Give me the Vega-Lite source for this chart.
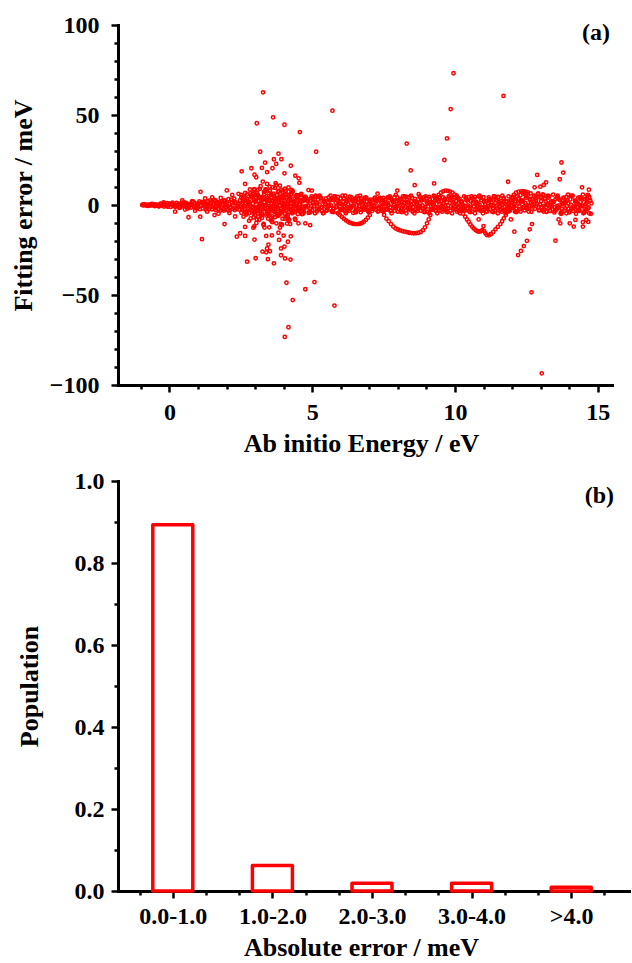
{
"$schema":"https://vega.github.io/schema/vega-lite/v6.json",
"padding":{"left":10,"top":13,"right":0,"bottom":0},
"bounds":"flush",
"spacing":96,
"config":{"view":{"stroke":null},
"axis":{"domainColor":"#000","domainWidth":3,"domainCap":"square","tickColor":"#000","tickWidth":2.5,"grid":false,"labelFont":"Liberation Serif","labelFontSize":24,"labelFontWeight":"bold","labelColor":"#000","titleFont":"Liberation Serif","titleFontSize":26,"titleFontWeight":"bold","titleColor":"#000","labelFlush":false,"labelOverlap":false,"zindex":1}},
"datasets":{
"hist":[{"lo":0,"pop":0.893},{"lo":1,"pop":0.062},{"lo":2,"pop":0.019},{"lo":3,"pop":0.019},{"lo":4,"pop":0.009}],
"pts":[
{"E":-0.95,"err":0.0},{"E":-0.91,"err":-0.2},{"E":-0.87,"err":0.3},{"E":-0.83,"err":-0.1},{"E":-0.79,"err":0.2},{"E":-0.75,"err":-0.4},{"E":-0.71,"err":0.1},{"E":-0.67,"err":-0.3},{"E":-0.63,"err":0.5},{"E":-0.59,"err":-0.1},{"E":-0.55,"err":0.4},{"E":-0.51,"err":-0.6},{"E":-0.47,"err":0.2},{"E":-0.43,"err":-0.3},{"E":-0.39,"err":0.1},{"E":-0.35,"err":-0.6},{"E":-0.31,"err":0.7},{"E":-0.27,"err":-0.3},{"E":-0.23,"err":0.5},{"E":-0.19,"err":-0.9},{"E":-0.15,"err":0.2},{"E":-0.11,"err":-0.5},{"E":-0.07,"err":1.0},{"E":-0.03,"err":-0.1},{"E":0.01,"err":0.7},{"E":0.05,"err":-1.0},{"E":0.09,"err":0.4},{"E":0.13,"err":-0.5},{"E":0.17,"err":0.1},{"E":0.21,"err":-1.0},{"E":0.25,"err":1.2},{"E":0.29,"err":-0.4},{"E":0.33,"err":0.8},{"E":0.37,"err":-1.4},{"E":0.41,"err":0.3},{"E":0.45,"err":-0.8},{"E":0.49,"err":1.5},{"E":0.53,"err":-0.2},{"E":0.57,"err":1.1},{"E":0.61,"err":-1.4},{"E":0.65,"err":0.6},{"E":0.69,"err":-0.8},{"E":0.73,"err":0.2},{"E":0.77,"err":-1.4},{"E":0.81,"err":1.6},{"E":0.85,"err":-0.6},{"E":0.89,"err":1.0},{"E":0.93,"err":-1.9},{"E":0.97,"err":0.4},{"E":1.01,"err":-1.1},{"E":1.05,"err":2.0},{"E":1.09,"err":-0.2},{"E":1.13,"err":1.4},{"E":1.17,"err":-1.9},{"E":1.21,"err":0.7},{"E":1.25,"err":-1.0},{"E":1.29,"err":0.2},{"E":1.33,"err":-1.8},{"E":1.37,"err":2.1},{"E":1.41,"err":-0.8},{"E":1.45,"err":1.3},{"E":1.49,"err":-2.4},{"E":1.53,"err":0.5},{"E":1.57,"err":-1.4},{"E":1.61,"err":2.5},{"E":1.65,"err":-0.3},{"E":1.69,"err":1.7},{"E":1.73,"err":-2.3},{"E":1.77,"err":0.9},{"E":1.81,"err":-1.2},{"E":1.85,"err":0.3},{"E":1.89,"err":-2.2},{"E":1.93,"err":2.5},{"E":1.97,"err":-1.0},{"E":2.01,"err":1.6},{"E":2.05,"err":-2.9},{"E":2.09,"err":0.7},{"E":2.13,"err":-1.7},{"E":2.17,"err":3.0},{"E":2.21,"err":-0.3},{"E":2.25,"err":2.1},{"E":2.29,"err":-2.8},{"E":2.33,"err":1.1},{"E":2.37,"err":-1.4},{"E":2.41,"err":0.4},{"E":2.45,"err":-2.6},
{"E":0.31,"err":-0.9},{"E":0.39,"err":0.6},{"E":0.47,"err":-0.3},{"E":0.55,"err":1.2},{"E":0.63,"err":-1.8},{"E":0.71,"err":0.0},{"E":0.79,"err":2.0},{"E":0.87,"err":-0.7},{"E":0.95,"err":-1.3},{"E":1.03,"err":0.9},{"E":1.11,"err":-0.5},{"E":1.19,"err":1.7},{"E":1.27,"err":-2.5},{"E":1.35,"err":0.0},{"E":1.43,"err":2.6},{"E":1.51,"err":-0.9},{"E":1.59,"err":-1.7},{"E":1.67,"err":1.1},{"E":1.75,"err":-0.6},{"E":1.83,"err":2.1},{"E":1.91,"err":-3.1},{"E":1.99,"err":0.0},{"E":2.07,"err":3.3},{"E":2.15,"err":-1.2},{"E":2.23,"err":-2.1},{"E":2.31,"err":1.4},{"E":2.39,"err":-0.7},{"E":2.47,"err":2.6},
{"E":-0.93,"err":0.2},{"E":-0.85,"err":-0.1},{"E":-0.77,"err":-0.4},{"E":-0.69,"err":0.2},{"E":-0.61,"err":0.6},{"E":-0.53,"err":-0.4},{"E":-0.45,"err":0.1},{"E":-0.37,"err":-0.8},{"E":-0.29,"err":0.5},{"E":-0.21,"err":0.7},{"E":-0.13,"err":-0.2},{"E":-0.05,"err":-1.0},{"E":0.03,"err":0.5},{"E":0.11,"err":1.3},{"E":0.19,"err":-0.8},{"E":0.27,"err":0.1},{"E":0.35,"err":-1.6},{"E":0.43,"err":0.8},{"E":0.51,"err":1.2},{"E":0.59,"err":-0.4},{"E":0.67,"err":-1.7},{"E":0.75,"err":0.8},{"E":0.83,"err":2.0},{"E":0.91,"err":-1.3},{"E":0.99,"err":0.2},{"E":1.07,"err":-2.3},{"E":1.15,"err":1.2},{"E":1.23,"err":1.7},{"E":1.31,"err":-0.5},{"E":1.39,"err":-2.3},{"E":1.47,"err":1.1},{"E":1.55,"err":2.8},{"E":1.63,"err":-1.7},{"E":1.71,"err":0.3},{"E":1.79,"err":-3.0},{"E":1.87,"err":1.5},{"E":1.95,"err":2.2},{"E":2.03,"err":-0.6},{"E":2.11,"err":-3.0},{"E":2.19,"err":1.4},{"E":2.27,"err":3.5},{"E":2.35,"err":-2.1},{"E":2.43,"err":0.4},
{"E":0.45,"err":2.6},{"E":0.9,"err":-3.2},{"E":1.25,"err":3.6},{"E":1.8,"err":3.9},{"E":1.72,"err":-4.8},{"E":2.2,"err":5.6},{"E":2.3,"err":-6.4},{"E":2.42,"err":6.2},{"E":2.1,"err":-4.5},{"E":0.55,"err":-2.5},{"E":-0.2,"err":1.4},{"E":1.5,"err":4.2},{"E":0.2,"err":-3.7},{"E":1.32,"err":-3.7},{"E":1.62,"err":-2.8},{"E":1.58,"err":-5.6},
{"E":2.52,"err":5.6},{"E":2.545,"err":-2.6},{"E":2.57,"err":1.3},{"E":2.595,"err":-6.5},{"E":2.62,"err":4.2},{"E":2.645,"err":-0.7},{"E":2.67,"err":2.6},{"E":2.695,"err":-5.3},{"E":2.72,"err":5.9},{"E":2.745,"err":-2.0},{"E":2.77,"err":0.4},{"E":2.795,"err":-4.6},{"E":2.82,"err":8.6},{"E":2.845,"err":-7.5},{"E":2.87,"err":4.1},{"E":2.895,"err":-1.4},{"E":2.92,"err":6.1},{"E":2.945,"err":-4.3},{"E":2.97,"err":8.8},{"E":2.995,"err":-4.0},{"E":3.02,"err":2.0},{"E":3.045,"err":-10.0},{"E":3.07,"err":6.5},{"E":3.095,"err":-1.1},{"E":3.12,"err":4.0},{"E":3.145,"err":-8.2},{"E":3.17,"err":9.0},{"E":3.195,"err":-3.1},{"E":3.22,"err":0.6},{"E":3.245,"err":-7.1},{"E":3.27,"err":13.0},{"E":3.295,"err":-11.1},{"E":3.32,"err":5.9},{"E":3.345,"err":-2.0},{"E":3.37,"err":8.5},{"E":3.395,"err":-5.9},{"E":3.42,"err":11.7},{"E":3.445,"err":-5.2},{"E":3.47,"err":2.6},{"E":3.495,"err":-12.4},{"E":3.52,"err":7.8},{"E":3.545,"err":-1.3},{"E":3.57,"err":4.6},{"E":3.595,"err":-9.1},{"E":3.62,"err":9.8},{"E":3.645,"err":-3.2},{"E":3.67,"err":0.6},{"E":3.695,"err":-6.8},{"E":3.72,"err":12.2},{"E":3.745,"err":-10.2},{"E":3.77,"err":5.4},{"E":3.795,"err":-1.8},{"E":3.82,"err":7.8},{"E":3.845,"err":-5.4},{"E":3.87,"err":10.8},{"E":3.895,"err":-4.8},{"E":3.92,"err":2.4},{"E":3.945,"err":-11.0},{"E":3.97,"err":6.8},{"E":3.995,"err":-1.1},{"E":4.02,"err":3.9},{"E":4.045,"err":-7.6},{"E":4.07,"err":8.0},{"E":4.095,"err":-2.6},{"E":4.12,"err":0.5},{"E":4.145,"err":-5.5},{"E":4.17,"err":9.8},{"E":4.195,"err":-8.2},{"E":4.22,"err":4.2},{"E":4.245,"err":-1.4},{"E":4.27,"err":5.9},{"E":4.295,"err":-4.0},{"E":4.32,"err":7.7},{"E":4.345,"err":-3.4},{"E":4.37,"err":1.6},{"E":4.395,"err":-7.6},{"E":4.42,"err":4.7},{"E":4.445,"err":-0.8},{"E":4.47,"err":2.6},{"E":4.495,"err":-5.0},{"E":4.52,"err":5.3},{"E":4.545,"err":-1.7},{"E":4.57,"err":0.3},{"E":4.595,"err":-3.5},{"E":4.62,"err":6.2},{"E":4.645,"err":-5.1},{"E":4.67,"err":2.7},{"E":4.695,"err":-0.9},{"E":4.72,"err":3.9},
{"E":3.01,"err":-2.4},{"E":3.06,"err":5.6},{"E":3.11,"err":-6.4},{"E":3.16,"err":0.8},{"E":3.21,"err":4.0},{"E":3.26,"err":-4.8},{"E":3.31,"err":7.2},{"E":3.36,"err":-0.4},{"E":3.41,"err":2.4},{"E":3.46,"err":-7.6},{"E":3.51,"err":-2.4},{"E":3.56,"err":5.6},{"E":3.61,"err":-6.4},{"E":3.66,"err":0.8},{"E":3.71,"err":4.0},{"E":3.76,"err":-4.8},{"E":3.81,"err":7.2},{"E":3.86,"err":-0.4},{"E":3.91,"err":2.4},{"E":3.96,"err":-7.6},{"E":4.01,"err":-2.4},{"E":4.06,"err":5.6},{"E":4.11,"err":-6.4},{"E":4.16,"err":0.8},
{"E":2.9,"err":5.2},{"E":2.95,"err":-6.8},{"E":3.0,"err":2.0},{"E":3.05,"err":-3.0},{"E":3.1,"err":8.5},{"E":3.15,"err":-0.9},{"E":3.2,"err":-6.0},{"E":3.25,"err":4.5},{"E":3.3,"err":-10.5},{"E":3.35,"err":7.5},{"E":3.4,"err":0.0},{"E":3.45,"err":-5.0},{"E":3.5,"err":6.5},{"E":3.55,"err":-8.5},{"E":3.6,"err":2.5},{"E":3.65,"err":-3.5},{"E":3.7,"err":9.5},{"E":3.75,"err":-1.0},{"E":3.8,"err":-6.0},{"E":3.85,"err":4.5},{"E":3.9,"err":-10.5},{"E":3.95,"err":7.5},{"E":4.0,"err":0.0},{"E":4.05,"err":-5.0},{"E":4.1,"err":5.8},{"E":4.15,"err":-7.2},{"E":4.2,"err":2.0},{"E":4.25,"err":-2.8},{"E":4.3,"err":7.0},{"E":4.35,"err":-0.7},{"E":4.4,"err":-4.0},
{"E":2.52,"err":-4.3},{"E":2.565,"err":3.2},{"E":2.61,"err":-0.4},{"E":2.655,"err":6.7},{"E":2.7,"err":-3.5},{"E":2.745,"err":2.1},{"E":2.79,"err":-8.8},{"E":2.835,"err":6.4},{"E":2.88,"err":-2.9},{"E":2.925,"err":0.7},{"E":2.97,"err":8.2},{"E":3.015,"err":-5.7},{"E":3.06,"err":-8.1},{"E":3.105,"err":5.5},{"E":3.15,"err":-0.7},{"E":3.195,"err":10.4},{"E":3.24,"err":-5.3},{"E":3.285,"err":3.1},{"E":3.33,"err":-12.5},{"E":3.375,"err":8.7},{"E":3.42,"err":-3.8},{"E":3.465,"err":0.9},{"E":3.51,"err":10.2},{"E":3.555,"err":-7.0},{"E":3.6,"err":-9.5},{"E":3.645,"err":6.3},{"E":3.69,"err":-0.8},{"E":3.735,"err":11.2},{"E":3.78,"err":-5.5},{"E":3.825,"err":3.1},{"E":3.87,"err":-12.5},{"E":3.915,"err":8.5},{"E":3.96,"err":-3.6},{"E":4.005,"err":0.8},{"E":4.05,"err":9.1},{"E":4.095,"err":-6.0},{"E":4.14,"err":-7.9},{"E":4.185,"err":5.0},{"E":4.23,"err":-0.6},{"E":4.275,"err":8.4},{"E":4.32,"err":-4.0},{"E":4.365,"err":2.1},{"E":4.41,"err":-8.3},{"E":4.455,"err":5.5},{"E":4.5,"err":-2.3},{"E":4.545,"err":0.5},{"E":4.59,"err":5.5},{"E":4.635,"err":-3.6},{"E":4.68,"err":-4.8},{"E":4.725,"err":3.2},
{"E":2.52,"err":4.3},{"E":2.56,"err":-1.0},{"E":2.6,"err":2.2},{"E":2.64,"err":-3.7},{"E":2.68,"err":0.9},{"E":2.72,"err":3.4},{"E":2.76,"err":-2.4},{"E":2.8,"err":1.6},{"E":2.84,"err":-0.3},{"E":2.88,"err":4.8},{"E":2.92,"err":-3.1},{"E":2.96,"err":2.7},{"E":3.0,"err":-1.7},{"E":3.04,"err":4.3},{"E":3.08,"err":-1.0},{"E":3.12,"err":2.2},{"E":3.16,"err":-3.7},{"E":3.2,"err":0.9},{"E":3.24,"err":3.4},{"E":3.28,"err":-2.4},{"E":3.32,"err":1.6},{"E":3.36,"err":-0.3},{"E":3.4,"err":4.8},{"E":3.44,"err":-3.1},{"E":3.48,"err":2.7},{"E":3.52,"err":-1.7},{"E":3.56,"err":4.3},{"E":3.6,"err":-1.0},{"E":3.64,"err":2.2},{"E":3.68,"err":-3.7},{"E":3.72,"err":0.9},{"E":3.76,"err":3.4},{"E":3.8,"err":-2.4},{"E":3.84,"err":1.6},{"E":3.88,"err":-0.3},{"E":3.92,"err":4.8},{"E":3.96,"err":-3.1},{"E":4.0,"err":2.7},{"E":4.04,"err":-1.7},{"E":4.08,"err":4.3},{"E":4.12,"err":-1.0},{"E":4.16,"err":2.2},{"E":4.2,"err":-3.7},{"E":4.24,"err":0.9},{"E":4.28,"err":3.4},{"E":4.32,"err":-2.4},{"E":4.36,"err":1.6},{"E":4.4,"err":-0.3},{"E":4.44,"err":4.8},{"E":4.48,"err":-3.1},{"E":4.52,"err":2.7},{"E":4.56,"err":-1.7},{"E":4.6,"err":4.3},{"E":4.64,"err":-1.0},{"E":4.68,"err":2.2},{"E":4.72,"err":-3.7},
{"E":4.76,"err":4.7},{"E":4.8,"err":-1.3},{"E":4.84,"err":2.4},{"E":4.88,"err":-4.4},{"E":4.92,"err":0.8},{"E":4.96,"err":3.7},{"E":5.0,"err":-2.8},{"E":5.04,"err":1.6},{"E":5.08,"err":-0.5},{"E":5.12,"err":5.2},{"E":5.16,"err":-3.6},{"E":5.2,"err":2.9},{"E":5.24,"err":-2.0},{"E":5.28,"err":4.7},{"E":5.32,"err":-1.3},{"E":5.36,"err":2.4},{"E":5.4,"err":-4.4},{"E":5.44,"err":0.8},{"E":5.48,"err":3.7},{"E":5.52,"err":-2.8},{"E":5.56,"err":1.6},{"E":5.6,"err":-0.5},{"E":5.64,"err":5.2},{"E":5.68,"err":-3.6},{"E":5.72,"err":2.9},{"E":5.76,"err":-2.0},{"E":5.8,"err":4.7},{"E":5.84,"err":-1.3},{"E":5.88,"err":2.4},{"E":5.92,"err":-4.4},{"E":5.96,"err":0.8},{"E":6.0,"err":3.7},{"E":6.04,"err":-2.8},{"E":6.08,"err":1.6},{"E":6.12,"err":-0.5},{"E":6.16,"err":5.2},{"E":6.2,"err":-3.6},{"E":6.24,"err":2.9},{"E":6.28,"err":-2.0},{"E":6.32,"err":4.7},{"E":6.36,"err":-1.3},{"E":6.4,"err":2.4},{"E":6.44,"err":-4.4},{"E":6.48,"err":0.8},{"E":6.52,"err":3.7},{"E":6.56,"err":-2.8},{"E":6.6,"err":1.6},{"E":6.64,"err":-0.5},{"E":6.68,"err":5.2},
{"E":6.72,"err":-2.7},{"E":6.76,"err":2.3},{"E":6.8,"err":-1.5},{"E":6.84,"err":3.7},{"E":6.88,"err":-0.9},{"E":6.92,"err":1.9},{"E":6.96,"err":-3.3},{"E":7.0,"err":0.7},{"E":7.04,"err":2.9},{"E":7.08,"err":-2.1},{"E":7.12,"err":1.3},{"E":7.16,"err":-0.3},{"E":7.2,"err":4.1},{"E":7.24,"err":-2.7},{"E":7.28,"err":2.3},{"E":7.32,"err":-1.5},{"E":7.36,"err":3.7},{"E":7.4,"err":-0.9},{"E":7.44,"err":1.9},{"E":7.48,"err":-3.3},{"E":7.52,"err":0.7},{"E":7.56,"err":2.9},{"E":7.6,"err":-2.1},{"E":7.64,"err":1.3},{"E":7.68,"err":-0.3},
{"E":7.72,"err":4.8},{"E":7.76,"err":-3.1},{"E":7.8,"err":2.7},{"E":7.84,"err":-1.7},{"E":7.88,"err":4.3},{"E":7.92,"err":-1.0},{"E":7.96,"err":2.2},{"E":8.0,"err":-3.7},{"E":8.04,"err":0.9},{"E":8.08,"err":3.4},{"E":8.12,"err":-2.4},{"E":8.16,"err":1.6},{"E":8.2,"err":-0.3},{"E":8.24,"err":4.8},{"E":8.28,"err":-3.1},{"E":8.32,"err":2.7},{"E":8.36,"err":-1.7},{"E":8.4,"err":4.3},{"E":8.44,"err":-1.0},{"E":8.48,"err":2.2},{"E":8.52,"err":-3.7},{"E":8.56,"err":0.9},{"E":8.6,"err":3.4},{"E":8.64,"err":-2.4},{"E":8.68,"err":1.6},{"E":8.72,"err":-0.3},{"E":8.76,"err":4.8},{"E":8.8,"err":-3.1},{"E":8.84,"err":2.7},{"E":8.88,"err":-1.7},{"E":8.92,"err":4.3},{"E":8.96,"err":-1.0},{"E":9.0,"err":2.2},{"E":9.04,"err":-3.7},{"E":9.08,"err":0.9},{"E":9.12,"err":3.4},{"E":9.16,"err":-2.4},{"E":9.2,"err":1.6},{"E":9.24,"err":-0.3},{"E":9.28,"err":4.8},{"E":9.32,"err":-3.1},{"E":9.36,"err":2.7},{"E":9.4,"err":-1.7},{"E":9.44,"err":4.3},{"E":9.48,"err":-1.0},{"E":9.52,"err":2.2},{"E":9.56,"err":-3.7},{"E":9.6,"err":0.9},{"E":9.64,"err":3.4},{"E":9.68,"err":-2.4},{"E":9.72,"err":1.6},{"E":9.76,"err":-0.3},{"E":9.8,"err":4.8},{"E":9.84,"err":-3.1},{"E":9.88,"err":2.7},{"E":9.92,"err":-1.7},{"E":9.96,"err":4.3},{"E":10.0,"err":-1.0},{"E":10.04,"err":2.2},{"E":10.08,"err":-3.7},{"E":10.12,"err":0.9},{"E":10.16,"err":3.4},{"E":10.2,"err":-2.4},{"E":10.24,"err":1.6},{"E":10.28,"err":-0.3},{"E":10.32,"err":4.8},{"E":10.36,"err":-3.1},{"E":10.4,"err":2.7},{"E":10.44,"err":-1.7},{"E":10.48,"err":4.3},{"E":10.52,"err":-1.0},{"E":10.56,"err":2.2},{"E":10.6,"err":-3.7},{"E":10.64,"err":0.9},{"E":10.68,"err":3.4},{"E":10.72,"err":-2.4},{"E":10.76,"err":1.6},{"E":10.8,"err":-0.3},{"E":10.84,"err":4.8},{"E":10.88,"err":-3.1},{"E":10.92,"err":2.7},{"E":10.96,"err":-1.7},{"E":11.0,"err":4.3},{"E":11.04,"err":-1.0},{"E":11.08,"err":2.2},{"E":11.12,"err":-3.7},{"E":11.16,"err":0.9},{"E":11.2,"err":3.4},{"E":11.24,"err":-2.4},{"E":11.28,"err":1.6},{"E":11.32,"err":-0.3},{"E":11.36,"err":4.8},{"E":11.4,"err":-3.1},{"E":11.44,"err":2.7},{"E":11.48,"err":-1.7},{"E":11.52,"err":4.3},{"E":11.56,"err":-1.0},{"E":11.6,"err":2.2},{"E":11.64,"err":-3.7},{"E":11.68,"err":0.9},{"E":11.72,"err":3.4},{"E":11.76,"err":-2.4},{"E":11.8,"err":1.6},{"E":11.84,"err":-0.3},{"E":11.88,"err":4.8},{"E":11.92,"err":-3.1},{"E":11.96,"err":2.7},{"E":12.0,"err":-1.7},{"E":12.04,"err":4.3},{"E":12.08,"err":-1.0},{"E":12.12,"err":2.2},{"E":12.16,"err":-3.7},{"E":12.2,"err":0.9},{"E":12.24,"err":3.4},{"E":12.28,"err":-2.4},
{"E":12.32,"err":2.6},{"E":12.36,"err":0.4},{"E":12.4,"err":6.4},{"E":12.44,"err":-2.9},{"E":12.48,"err":4.0},{"E":12.52,"err":-1.3},{"E":12.56,"err":5.9},{"E":12.6,"err":-0.5},{"E":12.64,"err":3.4},{"E":12.68,"err":-3.8},{"E":12.72,"err":1.8},{"E":12.76,"err":4.8},{"E":12.8,"err":-2.1},{"E":12.84,"err":2.6},{"E":12.88,"err":0.4},{"E":12.92,"err":6.4},{"E":12.96,"err":-2.9},{"E":13.0,"err":4.0},{"E":13.04,"err":-1.3},{"E":13.08,"err":5.9},{"E":13.12,"err":-0.5},{"E":13.16,"err":3.4},{"E":13.2,"err":-3.8},
{"E":13.24,"err":0.9},{"E":13.28,"err":4.1},{"E":13.32,"err":-3.2},{"E":13.36,"err":1.8},{"E":13.4,"err":-0.6},{"E":13.44,"err":5.8},{"E":13.48,"err":-4.1},{"E":13.52,"err":3.2},{"E":13.56,"err":-2.3},{"E":13.6,"err":5.2},{"E":13.64,"err":-1.4},{"E":13.68,"err":2.6},{"E":13.72,"err":-4.9},{"E":13.76,"err":0.9},{"E":13.8,"err":4.1},{"E":13.84,"err":-3.2},{"E":13.88,"err":1.8},{"E":13.92,"err":-0.6},{"E":13.96,"err":5.8},{"E":14.0,"err":-4.1},{"E":14.04,"err":3.2},{"E":14.08,"err":-2.3},{"E":14.12,"err":5.2},{"E":14.16,"err":-1.4},{"E":14.2,"err":2.6},{"E":14.24,"err":-4.9},{"E":14.28,"err":0.9},{"E":14.32,"err":4.1},{"E":14.36,"err":-3.2},{"E":14.4,"err":1.8},{"E":14.44,"err":-0.6},{"E":14.48,"err":5.8},{"E":14.52,"err":-4.1},{"E":14.56,"err":3.2},{"E":14.6,"err":-2.3},{"E":14.64,"err":5.2},{"E":14.68,"err":-1.4},{"E":14.72,"err":2.6},{"E":14.76,"err":-4.9},
{"E":4.78,"err":-0.5},{"E":4.86,"err":3.0},{"E":4.94,"err":-4.0},{"E":5.02,"err":1.2},{"E":5.1,"err":4.5},{"E":5.18,"err":-2.2},{"E":5.26,"err":0.2},{"E":5.34,"err":-3.3},{"E":5.42,"err":2.0},{"E":5.5,"err":-1.2},{"E":5.58,"err":-0.5},{"E":5.66,"err":3.0},{"E":5.74,"err":-4.0},{"E":5.82,"err":1.2},{"E":5.9,"err":4.5},{"E":5.98,"err":-2.2},{"E":6.06,"err":0.2},{"E":6.14,"err":-3.3},{"E":6.22,"err":2.0},{"E":6.3,"err":-1.2},{"E":6.38,"err":-0.5},{"E":6.46,"err":3.0},{"E":6.54,"err":-4.0},{"E":6.62,"err":1.2},{"E":6.7,"err":3.8},{"E":6.78,"err":-2.2},{"E":6.86,"err":0.2},{"E":6.94,"err":-2.9},{"E":7.02,"err":2.0},{"E":7.1,"err":-1.2},{"E":7.18,"err":-0.5},{"E":7.26,"err":3.0},{"E":7.34,"err":-3.4},{"E":7.42,"err":1.2},{"E":7.5,"err":3.9},{"E":7.58,"err":-2.2},{"E":7.66,"err":0.2},{"E":7.74,"err":-3.3},{"E":7.82,"err":2.0},{"E":7.9,"err":-1.2},{"E":7.98,"err":-0.5},{"E":8.06,"err":3.0},{"E":8.14,"err":-4.0},{"E":8.22,"err":1.2},{"E":8.3,"err":4.5},{"E":8.38,"err":-2.2},{"E":8.46,"err":0.2},{"E":8.54,"err":-3.3},{"E":8.62,"err":2.0},{"E":8.7,"err":-1.2},{"E":8.78,"err":-0.5},{"E":8.86,"err":3.0},{"E":8.94,"err":-4.0},{"E":9.02,"err":1.2},{"E":9.1,"err":4.5},{"E":9.18,"err":-2.2},{"E":9.26,"err":0.2},{"E":9.34,"err":-3.3},{"E":9.42,"err":2.0},{"E":9.5,"err":-1.2},{"E":9.58,"err":-0.5},{"E":9.66,"err":3.0},{"E":9.74,"err":-4.0},{"E":9.82,"err":1.2},{"E":9.9,"err":4.5},{"E":9.98,"err":-2.2},{"E":10.06,"err":0.2},{"E":10.14,"err":-3.3},{"E":10.22,"err":2.0},{"E":10.3,"err":-1.2},{"E":10.38,"err":-0.5},{"E":10.46,"err":3.0},{"E":10.54,"err":-4.0},{"E":10.62,"err":1.2},{"E":10.7,"err":4.5},{"E":10.78,"err":-2.2},{"E":10.86,"err":0.2},{"E":10.94,"err":-3.3},{"E":11.02,"err":2.0},{"E":11.1,"err":-1.2},{"E":11.18,"err":-0.5},{"E":11.26,"err":3.0},{"E":11.34,"err":-4.0},{"E":11.42,"err":1.2},{"E":11.5,"err":4.5},{"E":11.58,"err":-2.2},{"E":11.66,"err":0.2},{"E":11.74,"err":-3.3},{"E":11.82,"err":2.0},{"E":11.9,"err":-1.2},{"E":11.98,"err":-0.5},{"E":12.06,"err":3.0},{"E":12.14,"err":-4.0},{"E":12.22,"err":1.2},{"E":12.3,"err":5.5},{"E":12.38,"err":-1.2},{"E":12.46,"err":1.2},{"E":12.54,"err":-2.3},{"E":12.62,"err":3.0},{"E":12.7,"err":-0.2},{"E":12.78,"err":0.5},{"E":12.86,"err":4.0},{"E":12.94,"err":-3.0},{"E":13.02,"err":2.2},{"E":13.1,"err":5.5},{"E":13.18,"err":-1.2},{"E":13.26,"err":0.2},{"E":13.34,"err":-3.3},{"E":13.42,"err":2.0},{"E":13.5,"err":-1.2},{"E":13.58,"err":-0.5},{"E":13.66,"err":3.0},{"E":13.74,"err":-4.0},{"E":13.82,"err":1.2},{"E":13.9,"err":4.5},{"E":13.98,"err":-2.2},{"E":14.06,"err":0.2},{"E":14.14,"err":-3.3},{"E":14.22,"err":2.0},{"E":14.3,"err":-1.2},{"E":14.38,"err":-0.5},{"E":14.46,"err":3.0},{"E":14.54,"err":-4.0},{"E":14.62,"err":1.2},{"E":14.7,"err":4.5},
{"E":4.82,"err":2.5},{"E":4.9,"err":-3.6},{"E":4.98,"err":4.8},{"E":5.06,"err":-0.8},{"E":5.14,"err":1.6},{"E":5.22,"err":-2.6},{"E":5.3,"err":3.9},{"E":5.38,"err":-4.6},{"E":5.46,"err":0.5},{"E":5.54,"err":-1.9},{"E":5.62,"err":2.5},{"E":5.7,"err":-3.6},{"E":5.78,"err":4.8},{"E":5.86,"err":-0.8},{"E":5.94,"err":1.6},{"E":6.02,"err":-2.6},{"E":6.1,"err":3.9},{"E":6.18,"err":-4.6},{"E":6.26,"err":0.5},{"E":6.34,"err":-1.9},{"E":6.42,"err":2.5},{"E":6.5,"err":-3.6},{"E":6.58,"err":4.8},{"E":6.66,"err":-0.8},{"E":6.74,"err":1.6},{"E":6.82,"err":-2.6},{"E":6.9,"err":3.9},{"E":6.98,"err":-4.0},{"E":7.06,"err":0.5},{"E":7.14,"err":-1.9},{"E":7.22,"err":2.5},{"E":7.3,"err":-3.6},{"E":7.38,"err":4.0},{"E":7.46,"err":-0.8},{"E":7.54,"err":1.6},{"E":7.62,"err":-2.6},{"E":7.7,"err":3.9},{"E":7.78,"err":-4.6},{"E":7.86,"err":0.5},{"E":7.94,"err":-1.9},{"E":8.02,"err":2.5},{"E":8.1,"err":-3.6},{"E":8.18,"err":4.8},{"E":8.26,"err":-0.8},{"E":8.34,"err":1.6},{"E":8.42,"err":-2.6},{"E":8.5,"err":3.9},{"E":8.58,"err":-4.6},{"E":8.66,"err":0.5},{"E":8.74,"err":-1.9},{"E":8.82,"err":2.5},{"E":8.9,"err":-3.6},{"E":8.98,"err":4.8},{"E":9.06,"err":-0.8},{"E":9.14,"err":1.6},{"E":9.22,"err":-2.6},{"E":9.3,"err":3.9},{"E":9.38,"err":-4.6},{"E":9.46,"err":0.5},{"E":9.54,"err":-1.9},{"E":9.62,"err":2.5},{"E":9.7,"err":-3.6},{"E":9.78,"err":4.8},{"E":9.86,"err":-0.8},{"E":9.94,"err":1.6},{"E":10.02,"err":-2.6},{"E":10.1,"err":3.9},{"E":10.18,"err":-4.6},{"E":10.26,"err":0.5},{"E":10.34,"err":-1.9},{"E":10.42,"err":2.5},{"E":10.5,"err":-3.6},{"E":10.58,"err":4.8},{"E":10.66,"err":-0.8},{"E":10.74,"err":1.6},{"E":10.82,"err":-2.6},{"E":10.9,"err":3.9},{"E":10.98,"err":-4.6},{"E":11.06,"err":0.5},{"E":11.14,"err":-1.9},{"E":11.22,"err":2.5},{"E":11.3,"err":-3.6},{"E":11.38,"err":4.8},{"E":11.46,"err":-0.8},{"E":11.54,"err":1.6},{"E":11.62,"err":-2.6},{"E":11.7,"err":3.9},{"E":11.78,"err":-4.6},{"E":11.86,"err":0.5},{"E":11.94,"err":-1.9},{"E":12.02,"err":2.5},{"E":12.1,"err":-3.6},{"E":12.18,"err":4.8},{"E":12.26,"err":-0.8},{"E":12.34,"err":2.6},{"E":12.42,"err":-1.6},{"E":12.5,"err":4.9},{"E":12.58,"err":-3.6},{"E":12.66,"err":1.5},{"E":12.74,"err":-0.9},{"E":12.82,"err":3.5},{"E":12.9,"err":6.0},{"E":12.98,"err":0.2},{"E":13.06,"err":-2.9},{"E":13.14,"err":3.5},{"E":13.22,"err":-3.6},{"E":13.3,"err":4.8},{"E":13.38,"err":-0.8},{"E":13.46,"err":1.6},{"E":13.54,"err":-2.6},{"E":13.62,"err":3.9},{"E":13.7,"err":-4.6},{"E":13.78,"err":0.5},{"E":13.86,"err":-1.9},{"E":13.94,"err":2.5},{"E":14.02,"err":-3.6},{"E":14.1,"err":4.8},{"E":14.18,"err":-0.8},{"E":14.26,"err":1.6},{"E":14.34,"err":-2.6},{"E":14.42,"err":3.9},{"E":14.5,"err":-4.6},{"E":14.58,"err":0.5},{"E":14.66,"err":-1.9},{"E":14.74,"err":2.5},
{"E":2.54,"err":-2.0},{"E":2.62,"err":3.6},{"E":2.7,"err":-4.6},{"E":2.78,"err":0.9},{"E":2.86,"err":5.2},{"E":2.94,"err":-1.2},{"E":3.02,"err":2.0},{"E":3.1,"err":-3.2},{"E":3.18,"err":4.2},{"E":3.26,"err":-0.2},{"E":3.34,"err":-2.0},{"E":3.42,"err":3.6},{"E":3.5,"err":-4.6},{"E":3.58,"err":0.9},{"E":3.66,"err":5.2},{"E":3.74,"err":-1.2},{"E":3.82,"err":2.0},{"E":3.9,"err":-3.2},{"E":3.98,"err":4.2},{"E":4.06,"err":-0.2},{"E":4.14,"err":-2.0},{"E":4.22,"err":3.6},{"E":4.3,"err":-4.6},{"E":4.38,"err":0.9},{"E":4.46,"err":5.2},{"E":4.54,"err":-1.2},{"E":4.62,"err":2.0},{"E":4.7,"err":-3.2},{"E":4.78,"err":4.2},{"E":4.86,"err":-0.2},{"E":4.94,"err":-2.0},{"E":5.02,"err":3.6},{"E":5.1,"err":-4.6},{"E":5.18,"err":0.9},{"E":5.26,"err":5.2},{"E":5.34,"err":-1.2},{"E":5.42,"err":2.0},{"E":5.5,"err":-3.2},{"E":5.58,"err":4.2},{"E":5.66,"err":-0.2},{"E":5.74,"err":-2.0},{"E":5.82,"err":3.6},{"E":5.9,"err":-4.6},{"E":5.98,"err":0.9},{"E":6.06,"err":5.2},{"E":6.14,"err":-1.2},{"E":6.22,"err":2.0},{"E":6.3,"err":-3.2},{"E":6.38,"err":4.2},{"E":6.46,"err":-0.2},{"E":6.54,"err":-2.0},{"E":6.62,"err":3.6},{"E":6.7,"err":-4.0},{"E":6.78,"err":0.9},{"E":6.86,"err":4.2},{"E":6.94,"err":-1.2},{"E":7.02,"err":2.0},{"E":7.1,"err":-3.2},{"E":7.18,"err":3.6},{"E":7.26,"err":-0.2},{"E":7.34,"err":-2.0},{"E":7.42,"err":3.6},{"E":7.5,"err":-3.8},{"E":7.58,"err":0.9},{"E":7.66,"err":4.4},{"E":7.74,"err":-1.2},{"E":7.82,"err":2.0},{"E":7.9,"err":-3.2},{"E":7.98,"err":4.2},{"E":8.06,"err":-0.2},{"E":8.14,"err":-2.0},{"E":8.22,"err":3.6},{"E":8.3,"err":-4.6},{"E":8.38,"err":0.9},{"E":8.46,"err":5.2},{"E":8.54,"err":-1.2},{"E":8.62,"err":2.0},{"E":8.7,"err":-3.2},{"E":8.78,"err":4.2},{"E":8.86,"err":-0.2},{"E":8.94,"err":-2.0},{"E":9.02,"err":3.6},{"E":9.1,"err":-4.6},{"E":9.18,"err":0.9},{"E":9.26,"err":5.2},{"E":9.34,"err":-1.2},{"E":9.42,"err":2.0},{"E":9.5,"err":-3.2},{"E":9.58,"err":4.2},{"E":9.66,"err":-0.2},{"E":9.74,"err":-2.0},{"E":9.82,"err":3.6},{"E":9.9,"err":-4.6},{"E":9.98,"err":0.9},{"E":10.06,"err":5.2},{"E":10.14,"err":-1.2},{"E":10.22,"err":2.0},{"E":10.3,"err":-3.2},{"E":10.38,"err":4.2},{"E":10.46,"err":-0.2},{"E":10.54,"err":-2.0},{"E":10.62,"err":3.6},{"E":10.7,"err":-4.6},{"E":10.78,"err":0.9},{"E":10.86,"err":5.2},{"E":10.94,"err":-1.2},{"E":11.02,"err":2.0},{"E":11.1,"err":-3.2},{"E":11.18,"err":4.2},{"E":11.26,"err":-0.2},{"E":11.34,"err":-2.0},{"E":11.42,"err":3.6},{"E":11.5,"err":-4.6},{"E":11.58,"err":0.9},{"E":11.66,"err":5.2},{"E":11.74,"err":-1.2},{"E":11.82,"err":2.0},{"E":11.9,"err":-3.2},{"E":11.98,"err":4.2},{"E":12.06,"err":-0.2},{"E":12.14,"err":-2.0},{"E":12.22,"err":3.6},{"E":12.3,"err":-3.6},{"E":12.38,"err":1.9},{"E":12.46,"err":6.2},{"E":12.54,"err":-0.2},{"E":12.62,"err":3.0},{"E":12.7,"err":-2.2},{"E":12.78,"err":5.2},{"E":12.86,"err":0.8},{"E":12.94,"err":-1.0},{"E":13.02,"err":4.6},{"E":13.1,"err":-3.6},{"E":13.18,"err":1.9},{"E":13.26,"err":5.2},{"E":13.34,"err":-1.2},{"E":13.42,"err":2.0},{"E":13.5,"err":-3.2},{"E":13.58,"err":4.2},{"E":13.66,"err":-0.2},{"E":13.74,"err":-2.0},{"E":13.82,"err":3.6},{"E":13.9,"err":-4.6},{"E":13.98,"err":0.9},{"E":14.06,"err":5.2},{"E":14.14,"err":-1.2},{"E":14.22,"err":2.0},{"E":14.3,"err":-3.2},{"E":14.38,"err":4.2},{"E":14.46,"err":-0.2},{"E":14.54,"err":-2.0},{"E":14.62,"err":3.6},{"E":14.7,"err":-4.6},{"E":14.78,"err":0.9},
{"E":5.9,"err":-4.5},{"E":5.97,"err":-5.6},{"E":6.04,"err":-6.6},{"E":6.11,"err":-7.6},{"E":6.18,"err":-8.5},{"E":6.25,"err":-9.2},{"E":6.32,"err":-9.8},{"E":6.39,"err":-10.2},{"E":6.46,"err":-10.5},{"E":6.53,"err":-10.6},{"E":6.6,"err":-10.6},{"E":6.67,"err":-10.4},{"E":6.74,"err":-10.0},{"E":6.81,"err":-9.3},{"E":6.88,"err":-8.3},{"E":6.95,"err":-7.0},{"E":7.02,"err":-5.6},
{"E":7.45,"err":-3.0},{"E":7.52,"err":-5.5},{"E":7.6,"err":-7.6},{"E":7.68,"err":-9.0},{"E":7.76,"err":-10.6},{"E":7.84,"err":-12.0},{"E":7.92,"err":-13.0},{"E":8.0,"err":-13.6},{"E":8.08,"err":-14.1},{"E":8.16,"err":-14.5},{"E":8.24,"err":-14.8},{"E":8.32,"err":-15.1},{"E":8.4,"err":-15.4},{"E":8.48,"err":-15.6},{"E":8.56,"err":-15.7},{"E":8.64,"err":-15.6},{"E":8.72,"err":-15.4},{"E":8.8,"err":-15.0},{"E":8.88,"err":-14.0},{"E":8.95,"err":-12.4},{"E":9.02,"err":-10.2},{"E":9.08,"err":-8.0},{"E":9.14,"err":-5.6},{"E":9.2,"err":-2.4},{"E":9.25,"err":0.9},{"E":9.31,"err":2.8},{"E":9.37,"err":4.3},{"E":9.43,"err":5.6},{"E":9.51,"err":6.8},{"E":9.59,"err":7.6},{"E":9.67,"err":8.0},{"E":9.75,"err":7.8},{"E":9.83,"err":7.4},{"E":9.91,"err":6.9},{"E":9.99,"err":5.8},{"E":10.07,"err":4.5},
{"E":10.13,"err":-1.9},{"E":10.2,"err":-3.3},{"E":10.28,"err":-4.8},{"E":10.36,"err":-6.5},{"E":10.42,"err":-8.0},{"E":10.48,"err":-9.3},{"E":10.54,"err":-10.8},{"E":10.6,"err":-12.0},{"E":10.66,"err":-13.0},{"E":10.72,"err":-13.9},{"E":10.78,"err":-14.5},{"E":10.83,"err":-14.8},{"E":10.9,"err":-14.6},{"E":10.96,"err":-14.0},{"E":11.02,"err":-14.5},{"E":11.07,"err":-15.8},{"E":11.12,"err":-16.7},{"E":11.19,"err":-16.8},{"E":11.26,"err":-16.1},{"E":11.34,"err":-15.0},{"E":11.42,"err":-13.5},{"E":11.5,"err":-12.2},{"E":11.59,"err":-10.6},{"E":11.65,"err":-9.0},{"E":11.71,"err":-7.4},{"E":11.78,"err":-5.6},{"E":11.86,"err":-3.7},{"E":11.94,"err":-1.9},{"E":12.0,"err":1.5},{"E":12.06,"err":5.6},{"E":12.14,"err":6.8},{"E":12.23,"err":7.4},{"E":12.32,"err":7.6},{"E":12.4,"err":7.5},{"E":12.47,"err":7.4},{"E":12.56,"err":7.0},{"E":12.65,"err":6.5},
{"E":3.28,"err":62.6},{"E":3.06,"err":45.4},{"E":3.63,"err":48.7},{"E":4.03,"err":44.6},{"E":4.57,"err":40.5},{"E":5.14,"err":29.6},{"E":5.71,"err":52.4},{"E":3.18,"err":29.6},{"E":3.35,"err":23.5},{"E":3.66,"err":25.4},{"E":3.82,"err":28.5},{"E":3.92,"err":25.4},{"E":3.74,"err":22.8},{"E":3.61,"err":20.4},{"E":3.42,"err":18.3},{"E":3.24,"err":20.6},{"E":2.87,"err":20.4},{"E":2.53,"err":18.7},{"E":4.03,"err":17.6},{"E":4.25,"err":21.8},{"E":4.41,"err":16.3},{"E":4.53,"err":14.8},{"E":4.55,"err":12.3},{"E":4.99,"err":8.0},{"E":4.17,"err":7.4},{"E":2.65,"err":11.7},{"E":2.98,"err":16.8},{"E":3.04,"err":15.4},{"E":2.01,"err":8.1},{"E":1.09,"err":7.3},{"E":4.87,"err":8.3},
{"E":9.95,"err":73.2},{"E":11.7,"err":60.6},{"E":9.85,"err":53.3},{"E":9.72,"err":37.0},{"E":8.31,"err":34.1},{"E":9.63,"err":25.0},{"E":8.45,"err":19.2},{"E":13.73,"err":23.6},{"E":13.79,"err":18.0},{"E":12.88,"err":16.7},{"E":8.59,"err":11.0},{"E":9.27,"err":12.0},{"E":11.86,"err":12.9},{"E":13.67,"err":14.3},{"E":13.19,"err":12.6},{"E":13.11,"err":11.1},{"E":12.99,"err":10.2},{"E":12.79,"err":9.8},{"E":14.45,"err":9.8},{"E":14.69,"err":8.5},{"E":14.66,"err":5.6},{"E":7.29,"err":6.3},{"E":7.85,"err":1.8},{"E":7.93,"err":5.6},{"E":7.98,"err":8.0},{"E":8.73,"err":6.0},
{"E":1.14,"err":-19.0},{"E":0.67,"err":-6.8},{"E":1.08,"err":-6.5},{"E":1.93,"err":-10.6},
{"E":2.36,"err":-17.6},{"E":2.48,"err":-15.7},{"E":2.65,"err":-17.2},{"E":2.98,"err":-19.2},{"E":3.39,"err":-17.2},{"E":3.59,"err":-16.9},{"E":3.84,"err":-19.4},{"E":4.25,"err":-17.4},{"E":4.03,"err":-23.1},{"E":2.72,"err":-31.5},{"E":3.02,"err":-29.6},{"E":3.39,"err":-26.3},{"E":3.45,"err":-30.1},{"E":3.66,"err":-32.4},{"E":3.91,"err":-27.9},{"E":4.05,"err":-29.7},{"E":4.24,"err":-30.3},{"E":3.42,"err":-24.1},{"E":3.52,"err":-25.7},{"E":3.26,"err":-25.9},{"E":3.47,"err":-22.0},{"E":3.91,"err":-24.1},{"E":4.15,"err":-20.4},{"E":4.0,"err":-17.0},{"E":3.82,"err":-15.4},{"E":2.97,"err":-11.9},{"E":2.65,"err":-12.2},{"E":2.94,"err":-12.6},{"E":4.23,"err":-10.6},{"E":4.52,"err":-10.2},{"E":4.12,"err":-10.3},{"E":4.76,"err":-10.2},{"E":4.93,"err":-11.2},
{"E":4.1,"err":-43.2},{"E":4.76,"err":-46.8},{"E":5.08,"err":-42.8},{"E":4.32,"err":-52.8},{"E":4.17,"err":-67.9},{"E":4.04,"err":-73.3},{"E":5.78,"err":-55.9},
{"E":12.68,"err":-48.5},{"E":13.04,"err":-93.5},{"E":12.21,"err":-27.8},{"E":12.31,"err":-25.5},{"E":12.41,"err":-22.8},{"E":12.52,"err":-19.9},{"E":12.62,"err":-13.5},{"E":12.7,"err":-10.6},{"E":12.08,"err":-14.8},{"E":11.96,"err":-8.0},{"E":13.52,"err":-19.8},{"E":13.63,"err":-8.0},{"E":13.69,"err":-10.2},{"E":14.02,"err":-10.2},{"E":14.16,"err":-12.0},{"E":14.22,"err":-8.3},{"E":14.48,"err":-9.5},{"E":14.48,"err":-12.0},{"E":14.6,"err":-8.3},{"E":14.67,"err":-9.4},{"E":11.0,"err":-11.7},{"E":10.83,"err":-8.0}
]},
"vconcat":[
{
"width":494,"height":360,
"title":{"text":"(a)","anchor":"end","frame":"group","orient":"top","baseline":"alphabetic","offset":-51,"dx":-2,"font":"Liberation Serif","fontSize":24,"fontWeight":"bold","color":"#000"},
"data":{"name":"pts"},
"mark":{"type":"point","shape":"circle","filled":false,"stroke":"#ff0000","strokeWidth":1.5,"size":11,"opacity":1},
"encoding":{
"x":{"field":"E","type":"quantitative","scale":{"domain":[-1.8,15.5],"nice":false,"zero":false},
"axis":{"title":"Ab initio Energy / eV","titleX":243,"values":[-1,0,1,2,3,4,5,6,7,8,9,10,11,12,13,14,15],"labelExpr":"datum.value % 5 === 0 ? datum.label : ''","tickSize":{"condition":{"test":"datum.value % 5 === 0","value":7},"value":4},"labelPadding":8,"titlePadding":6}},
"y":{"field":"err","type":"quantitative","scale":{"domain":[-100,100],"nice":false,"zero":false},
"axis":{"title":"Fitting error / meV","values":[-100,-90,-80,-70,-60,-50,-40,-30,-20,-10,0,10,20,30,40,50,60,70,80,90,100],"labelExpr":"datum.value % 50 === 0 ? datum.label : ''","tickSize":{"condition":{"test":"datum.value % 50 === 0","value":7},"value":4},"labelPadding":12,"titlePadding":13}}
}
},
{
"width":513,"height":410,
"title":{"text":"(b)","anchor":"end","frame":"group","orient":"top","baseline":"alphabetic","offset":-58,"dx":-17,"font":"Liberation Serif","fontSize":24,"fontWeight":"bold","color":"#000"},
"data":{"name":"hist"},
"mark":{"type":"bar","fill":"#ffffff","stroke":"#ff0000","strokeWidth":3.5,"size":40,"strokeJoin":"round"},
"encoding":{
"x":{"field":"lo","type":"quantitative","scale":{"domain":[-0.5,4.55],"nice":false,"zero":false},
"axis":{"title":"Absolute error / meV","titleX":243,"values":[-0.3333,0,0.3333,0.6667,1,1.3333,1.6667,2,2.3333,2.6667,3,3.3333,3.6667,4,4.3333],"labelExpr":"abs(datum.value - round(datum.value)) < 0.01 ? (datum.value > 3.5 ? '>4.0' : format(datum.value, '.1f') + '-' + format(datum.value + 1, '.1f')) : ''","tickSize":{"condition":{"test":"abs(datum.value - round(datum.value)) < 0.01","value":7},"value":4},"labelPadding":6,"titlePadding":6}},
"y":{"field":"pop","type":"quantitative","scale":{"domain":[0,1],"nice":false,"zero":true},
"axis":{"title":"Population","values":[0,0.1,0.2,0.3,0.4,0.5,0.6,0.7,0.8,0.9,1.0],"labelExpr":"round(datum.value * 10) % 2 === 0 ? format(datum.value, '.1f') : ''","tickSize":{"condition":{"test":"round(datum.value * 10) % 2 === 0","value":7},"value":4},"labelPadding":7,"titlePadding":32}}
}
}
]
}
